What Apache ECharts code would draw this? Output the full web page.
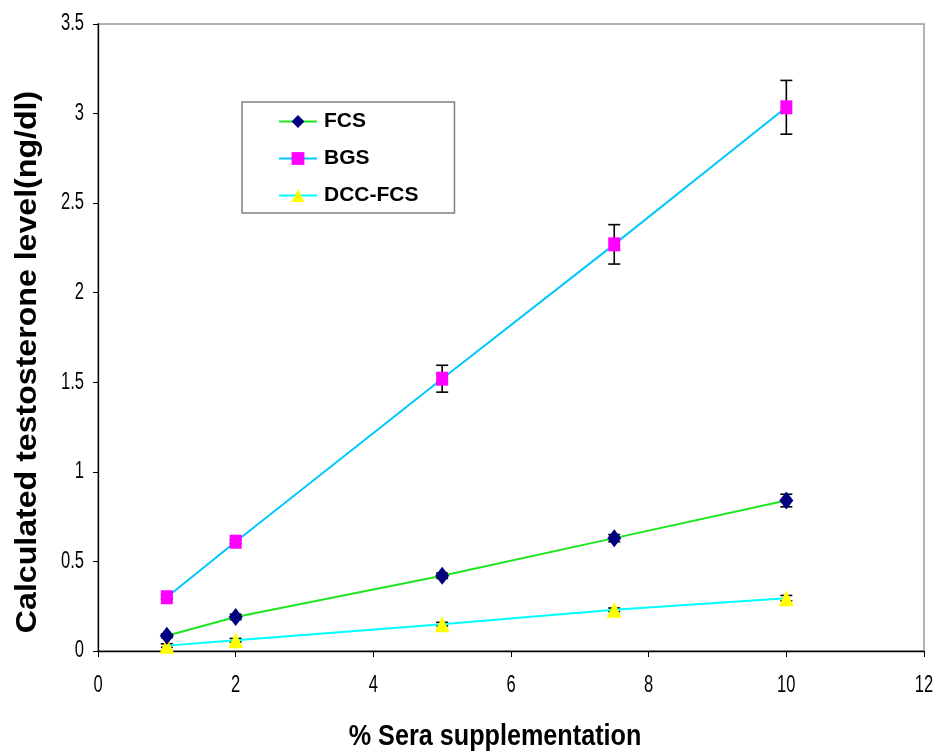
<!DOCTYPE html>
<html>
<head>
<meta charset="utf-8">
<script src="https://cdn.jsdelivr.net/npm/echarts@6/dist/echarts.min.js"></script>
<style>html,body{margin:0;padding:0;background:#fff}#c{width:936px;height:752px}</style>
</head>
<body>
<div id="c"></div>
<script>
var xValues = [1, 2, 5, 7.5, 10];
var fcs = [0.085, 0.19, 0.42, 0.63, 0.84];
var fcsErr = [0.01, 0.015, 0.015, 0.02, 0.035];
var bgs = [0.30, 0.61, 1.52, 2.27, 3.035];
var bgsErr = [0.01, 0.01, 0.075, 0.11, 0.15];
var dcc = [0.03, 0.06, 0.15, 0.23, 0.295];
var dccErr = [0.01, 0.01, 0.01, 0.01, 0.015];
var xTicks = [0, 2, 4, 6, 8, 10, 12];
var yTicks = [0, 0.5, 1, 1.5, 2, 2.5, 3, 3.5];

var FONT = '"Liberation Sans", Arial, sans-serif';

function pairs(v) { return xValues.map(function (x, i) { return [x, v[i]]; }); }
function errData(v, e) { return xValues.map(function (x, i) { return [x, v[i] - e[i], v[i] + e[i]]; }); }

function errRender(params, api) {
  var x = api.value(0);
  var lo = api.coord([x, api.value(1)]);
  var hi = api.coord([x, api.value(2)]);
  var w = 6;
  var st = { stroke: '#000', lineWidth: 1.6 };
  return {
    type: 'group',
    children: [
      { type: 'line', shape: { x1: hi[0], y1: hi[1], x2: lo[0], y2: lo[1] }, style: st },
      { type: 'line', shape: { x1: hi[0] - w, y1: hi[1], x2: hi[0] + w, y2: hi[1] }, style: st },
      { type: 'line', shape: { x1: lo[0] - w, y1: lo[1], x2: lo[0] + w, y2: lo[1] }, style: st }
    ]
  };
}

var chart = echarts.init(document.getElementById('c'));
chart.setOption({
  animation: false,
  backgroundColor: '#fff',
  grid: { left: 98, right: 12, top: 24, bottom: 101, show: true, borderColor: '#999', borderWidth: 1.5 },
  xAxis: {
    type: 'value', min: xTicks[0], max: xTicks[xTicks.length - 1], interval: 2,
    axisLine: { show: true, lineStyle: { color: '#000', width: 1.3 } },
    axisTick: { show: true, length: 6, lineStyle: { color: '#000' } },
    axisLabel: { show: false },
    splitLine: { show: false }
  },
  yAxis: {
    type: 'value', min: yTicks[0], max: yTicks[yTicks.length - 1], interval: 0.5,
    axisLine: { show: true, lineStyle: { color: '#000', width: 1.3 } },
    axisTick: { show: true, length: 5, lineStyle: { color: '#000' } },
    axisLabel: { show: false },
    splitLine: { show: false }
  },
  legend: {
    orient: 'vertical', left: 242, top: 102, width: 211,
    padding: [9, 36, 7, 36],
    itemGap: 16, itemWidth: 38, itemHeight: 16,
    borderColor: '#808080', borderWidth: 1.5, backgroundColor: '#fff',
    textStyle: { fontFamily: FONT, fontSize: 21, fontWeight: 'bold', color: '#000', padding: [0, 0, 0, 2] },
    data: ['FCS', 'BGS', 'DCC-FCS']
  },
  series: [
    { type: 'custom', name: 'errBGS', renderItem: errRender, data: errData(bgs, bgsErr), z: 1, silent: true },
    { type: 'custom', name: 'errFCS', renderItem: errRender, data: errData(fcs, fcsErr), z: 1, silent: true },
    { type: 'custom', name: 'errDCC', renderItem: errRender, data: errData(dcc, dccErr), z: 1, silent: true },
    { type: 'line', name: 'FCS', data: pairs(fcs), z: 3,
      lineStyle: { color: '#1ee61e', width: 2 },
      symbol: 'diamond', symbolSize: [14, 18], itemStyle: { color: '#000080' } },
    { type: 'line', name: 'BGS', data: pairs(bgs), z: 3,
      lineStyle: { color: '#00c8ff', width: 2 },
      symbol: 'rect', symbolSize: [12, 14], itemStyle: { color: '#ff00ff' } },
    { type: 'line', name: 'DCC-FCS', data: pairs(dcc), z: 2,
      lineStyle: { color: '#00ffff', width: 2 },
      symbol: 'triangle', symbolSize: [15, 16], itemStyle: { color: '#ffff00' } }
  ]
});

// condensed tick labels placed through the chart's own scales
var gfx = [];
var labelFont = '23px ' + FONT;
xTicks.forEach(function (t) {
  var p = chart.convertToPixel({ gridIndex: 0 }, [t, 0]);
  gfx.push({ type: 'text', x: p[0], y: p[1] + 35, scaleX: 0.72,
    style: { text: String(t), font: labelFont, fill: '#000', align: 'center', verticalAlign: 'middle' } });
});
yTicks.forEach(function (t) {
  var p = chart.convertToPixel({ gridIndex: 0 }, [0, t]);
  gfx.push({ type: 'text', x: p[0] - 14, y: p[1], scaleX: 0.72,
    style: { text: String(t), font: labelFont, fill: '#000', align: 'right', verticalAlign: 'middle' } });
});
gfx.push({ type: 'text', x: 28, y: 362, rotation: Math.PI / 2, scaleX: 1.07,
  style: { text: 'Calculated testosterone level(ng/dl)', font: 'bold 30px ' + FONT, fill: '#000', align: 'center', verticalAlign: 'middle' } });
gfx.push({ type: 'text', x: 495, y: 737, scaleX: 0.84,
  style: { text: '% Sera supplementation', font: 'bold 30px ' + FONT, fill: '#000', align: 'center', verticalAlign: 'middle' } });
chart.setOption({ graphic: gfx });
</script>
</body>
</html>
